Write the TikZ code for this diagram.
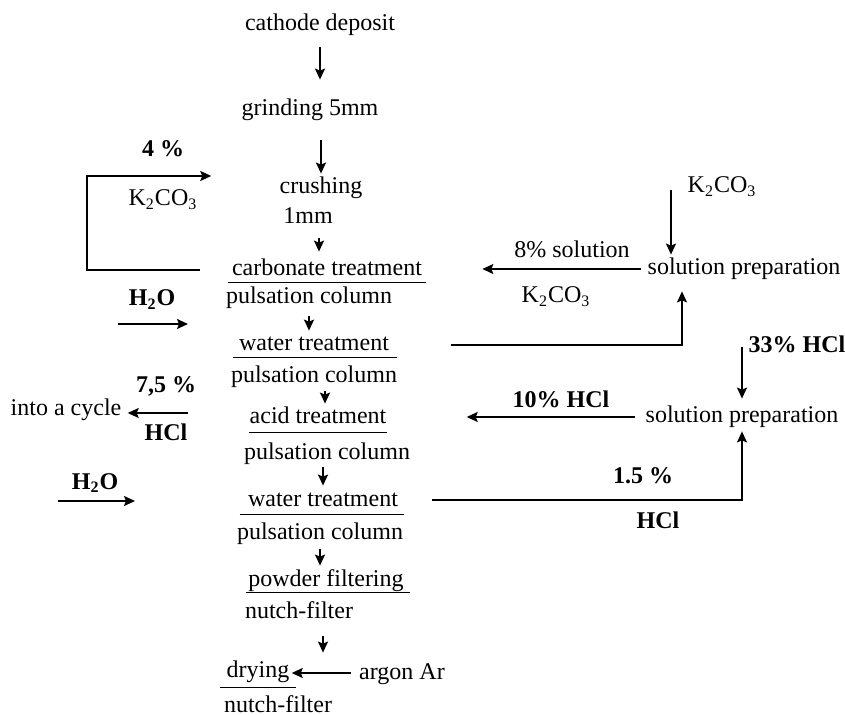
\documentclass[tikz,border=0pt]{standalone}
\usepackage{fontspec}
\setmainfont{Liberation Serif}
\usetikzlibrary{arrows.meta, calc}

\begin{document}
\begin{tikzpicture}[
    x=0.5pt, y=-0.5pt,
    every node/.style={
        font=\fontsize{12}{14}\selectfont,
        inner sep=1pt,
        text height=9pt,
        text depth=3pt
    },
    tag/.style={font=\fontsize{12}{14}\selectfont\bfseries},
    flow/.style={-{Stealth[length=5.5pt, width=5pt, inset=1pt]}, line width=0.8pt},
    rule/.style={line width=0.8pt}
]
\useasboundingbox (0,0) rectangle (845,715);

% main process line
\node (cathode) at (320,25) {cathode deposit};
\node (grind) at (310,110) {grinding 5mm};
\node (crush) at (321,188) {crushing};
\node[anchor=west] (onemm) at (281,218) {1mm};
\node (carb) at (327,270) {carbonate treatment};
\node (puls1) at (309,298) {pulsation column};
\node (water1) at (314,345) {water treatment};
\node (puls2) at (314,377) {pulsation column};
\node (acid) at (318,418) {acid treatment};
\node (puls3) at (327,453) {pulsation column};
\node (water2) at (323,500) {water treatment};
\node (puls4) at (320,533) {pulsation column};
\node (powder) at (326,580) {powder filtering};
\node (nutch1) at (299,612) {nutch-filter};
\node (dry) at (258,671) {drying};
\node (argon) at (402,673) {argon Ar};
\node[text depth=0pt] (nutch2) at (278,703) {nutch-filter};

% solution preparation
\node (solK) at (744,269) {solution preparation};
\node (solH) at (742,417) {solution preparation};
\node (k2top) at (722,187) {K\textsubscript{2}CO\textsubscript{3}};
\node (eight) at (572,252) {8\% solution};
\node (k2mid) at (556,297) {K\textsubscript{2}CO\textsubscript{3}};
\node[tag] (hcl33) at (797,347) {33\% HCl};
\node[tag] (ten) at (561,402) {10\% HCl};
\node[tag] (onefive) at (643,478) {1.5 \%};
\node[tag] (hclB) at (658,522) {HCl};

% left side streams
\node[tag] (four) at (163,151) {4 \%};
\node (k2left) at (163,200) {K\textsubscript{2}CO\textsubscript{3}};
\node[tag] (h2oA) at (152,300) {H\textsubscript{2}O};
\node[tag] (seven) at (166,387) {7,5 \%};
\node (cycle) at (66,410) {into a cycle};
\node[tag] (hclL) at (166,435) {HCl};
\node[tag] (h2oB) at (95,483) {H\textsubscript{2}O};

\coordinate (loop) at (87,176);
\coordinate (h2oAs) at (118,324);
\coordinate (h2oAe) at (188,324);
\coordinate (h2oBs) at (58,501);
\coordinate (h2oBe) at (135,501);
\coordinate (cycS) at (188,413);
\coordinate (k2in) at (671,190);
\coordinate (hclin) at (742,347);

% underlines
\draw[rule] ([xshift=-1pt,yshift=1pt]carb.south west) -- ([xshift=1pt,yshift=1pt]carb.south east);
\draw[rule] ([xshift=-2pt,yshift=1pt]water1.south west) -- ([xshift=3pt,yshift=1pt]water1.south east);
\draw[rule] ([xshift=1pt,yshift=0pt]acid.south west) -- ([xshift=-1pt,yshift=0pt]acid.south east);
\draw[rule] ([xshift=-3pt,yshift=0pt]water2.south west) -- ([xshift=2pt,yshift=0pt]water2.south east);
\draw[rule] ([xshift=0pt,yshift=1pt]powder.south west) -- ([xshift=2pt,yshift=1pt]powder.south east);
\draw[rule] ([xshift=-2pt,yshift=-1pt]dry.south west) -- ([xshift=2pt,yshift=-1pt]dry.south east);

% main arrows
\draw[flow, shorten <=4pt, shorten >=8pt] (cathode.south) -- (cathode.south |- grind.north);
\draw[flow, shorten <=8pt] (crush.north |- grind.south) -- (crush.north);
\draw[flow, shorten <=3pt, shorten >=2pt] ($(onemm.south -| carb.north)+(-8,0)$) -- ($(carb.north)+(-8,0)$);
\draw[flow, shorten <=2pt] (puls1.south) -- (puls1.south |- water1.north);
\draw[flow] ($(puls2.south -| acid.north)+(7,0)$) -- ($(acid.north)+(7,0)$);
\draw[flow] (water2.north |- puls3.south) -- (water2.north);
\draw[flow, shorten <=1pt] (puls4.south) -- (puls4.south |- powder.north);
\draw[flow, shorten <=5pt, shorten >=2pt] ($(nutch1.south)+(24,0)$) -- ($(nutch1.south |- dry.north)+(24,0)$);

% side streams
\draw[flow, shorten <=15pt, shorten >=33pt] (carb.west) -| (loop) -- (loop -| crush.west);
\draw[flow] (h2oAs) -- (h2oAe);
\draw[flow] (h2oBs) -- (h2oBe);
\draw[flow, shorten >=2pt] (cycS) -- (cycS -| cycle.east);
\draw[flow, shorten <=3pt] (argon.west) -- (argon.west -| dry.east);

% solution preparation streams
\draw[flow] (k2in) -- (k2in |- solK.north);
\draw[flow, shorten <=2pt, shorten >=29pt] (solK.west) -- (solK.west -| carb.east);
\draw[flow, shorten <=30pt, shorten >=4pt] (water1.east) -| ($(solK.south)+(-62,0)$);
\draw[flow, shorten >=2pt] (hclin) -- (hclin |- solH.north);
\draw[flow, shorten <=4pt, shorten >=39pt] (solH.west) -- (solH.west -| acid.east);
\draw[flow, shorten <=16pt] (water2.east) -| (solH.south);

\end{tikzpicture}
\end{document}
